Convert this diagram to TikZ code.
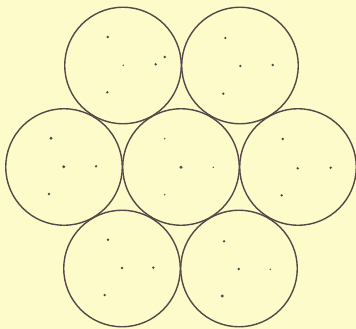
\documentclass[tikz,border=0pt]{standalone}
\definecolor{paper}{HTML}{FEFBCA}
\definecolor{ink}{HTML}{584648}
\tikzset{
  ring/.style={circle, draw=ink, line width=1.4pt, minimum size=116.5pt, inner sep=0pt},
  dotm/.style={circle, fill=ink, minimum size=2.6pt, inner sep=0pt},
  dotl/.style={circle, fill=ink, minimum size=3.3pt, inner sep=0pt},
  dots/.style={circle, fill=ink, minimum size=1.6pt, inner sep=0pt},
}
\begin{document}
\begin{tikzpicture}[x=1pt,y=-1pt]
\fill[paper] (0,0) rectangle (356,329);
\useasboundingbox (0,0) rectangle (356,329);
% circles
\node[ring] (tl) at (123,65.5) {};
\node[ring] (tr) at (240,65.5) {};
\node[ring] (ml) at (64,167) {};
\node[ring] (mc) at (181,167) {};
\node[ring] (mr) at (298,167) {};
\node[ring] (bl) at (122,268.5) {};
\node[ring] (br) at (239,268.5) {};
% top-left dots
\node[dotm] (tl1) at (107.7,37) {};
\node[dots] (tl2) at (123.3,65.3) {};
\node[dotm] (tl3) at (155.7,64.3) {};
\node[dotm] (tl4) at (164.7,57) {};
\node[dotm] (tl5) at (107.3,92.3) {};
% top-right dots
\node[dotm] (tr1) at (225.3,38) {};
\node[dotm] (tr2) at (240.3,66) {};
\node[dotm] (tr3) at (272.7,65) {};
\node[dotm] (tr4) at (223.3,93.7) {};
% middle-left dots
\node[dotl] (ml1) at (51,138.3) {};
\node[dotl] (ml2) at (63.7,166.7) {};
\node[dotm] (ml3) at (96,166.3) {};
\node[dotm] (ml4) at (49,194) {};
% middle dots
\node[dots] (mc1) at (164.7,138.7) {};
\node[dotl] (mc2) at (181,167.3) {};
\node[dots] (mc3) at (213.3,167.3) {};
\node[dots] (mc4) at (164.7,194.7) {};
% right dots
\node[dotm] (mr1) at (282.7,139) {};
\node[dotm] (mr2) at (297.7,168.3) {};
\node[dotm] (mr3) at (330.7,167.7) {};
\node[dotm] (mr4) at (281.7,195.3) {};
% bottom-left dots
\node[dotm] (bl1) at (108,239.7) {};
\node[dotm] (bl2) at (122,268) {};
\node[dotm] (bl3) at (153.3,267.7) {};
\node[dotm] (bl4) at (104.7,295) {};
% bottom-right dots
\node[dotm] (br1) at (224,241.3) {};
\node[dotm] (br2) at (238.7,269) {};
\node[dots] (br3) at (270.3,269.3) {};
\node[dotl] (br4) at (222.3,296) {};
\end{tikzpicture}
\end{document}
